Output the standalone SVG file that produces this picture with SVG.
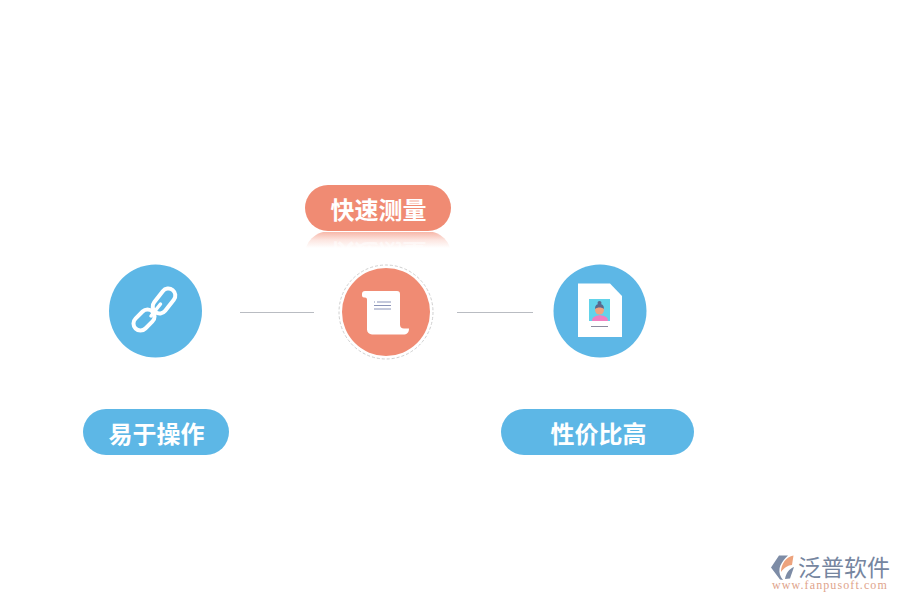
<svg xmlns="http://www.w3.org/2000/svg" width="900" height="600" viewBox="0 0 900 600">
<defs>
<linearGradient id="fade" gradientUnits="userSpaceOnUse" x1="0" y1="232" x2="0" y2="248"><stop offset="0" stop-color="#f28b73" stop-opacity=".62"/><stop offset=".5" stop-color="#f28b73" stop-opacity=".22"/><stop offset="1" stop-color="#f28b73" stop-opacity="0"/></linearGradient>
<clipPath id="refl"><rect x="300" y="232" width="160" height="16"/></clipPath>
</defs>
<style>
.lab{font-family:"Noto Sans CJK SC",sans-serif;font-weight:700;font-size:24px;fill:#fff;text-anchor:middle}
.blue{fill:#5db7e6}.red{fill:#f08b73}
.con{stroke:#b9bcc2;stroke-width:1;fill:none}
.w{fill:#fff}
.ln{stroke:#8a94b8;stroke-width:1;fill:none}
.link{fill:none;stroke:#fff;stroke-width:4}
</style>
<rect width="900" height="600" fill="#fff"/>
<g id="connectors">
<line class="con" x1="240" y1="312.500" x2="314" y2="312.500"/>
<line class="con" x1="457" y1="312.500" x2="533" y2="312.500"/>
</g>
<g id="node-speed-label">
<g clip-path="url(#refl)">
<rect x="305" y="231.500" width="146" height="46" rx="23" fill="url(#fade)"/>
<text class="lab" transform="translate(378.500 463) scale(1 -1)" fill-opacity=".55" y="219" x="0">快速测量</text>
</g>
<rect x="305" y="185" width="146" height="46" rx="23" class="red"/>
<text x="378.500" y="219" class="lab">快速测量</text>
</g>
<g id="node-speed">
<circle cx="386" cy="312" r="47" fill="none" stroke="#cfcfcf" stroke-width="1" stroke-dasharray="3 2"/>
<circle cx="386" cy="312" r="44" class="red"/>
<path d="M362 294a3 3 0 0 1 3-3H397a3 3 0 0 1 3 3V324.500a4 4 0 0 0 4 4h5c0 4-2 6-6 6H372a5 5 0 0 1-5-5V299.500a2 2 0 0 0-2-2h-1a2 2 0 0 1-2-2Z" class="w"/>
<path class="ln" d="M377 302h14M374 305.500h17M374 309h17"/>
<path d="M374 302h1" stroke="#8a94b8" fill="none"/>
</g>
<g id="node-easy">
<circle cx="155.500" cy="311" r="46.500" class="blue"/>
<rect class="link" x="132" y="313" width="24" height="14" rx="7" transform="rotate(-45 144 320)"/>
<rect class="link" x="150" y="294" width="28" height="14" rx="7" transform="rotate(-52 164 301)"/>
<path d="M151 316L160.500 304" stroke="#fff" stroke-width="3.500" stroke-linecap="round" fill="none"/>
</g>
<g id="node-value">
<circle cx="600" cy="311" r="46.500" class="blue"/>
<path d="M578 283.500H610L622 296V337H578Z" class="w"/>
<rect x="589" y="299" width="21" height="22" fill="#62d3ea"/>
<path d="M592 321c0-4 3-5 8-6c5 1 8 2 8 6Z" fill="#f07fc0"/>
<circle cx="599.500" cy="310" r="4.500" fill="#f2a27e"/>
<path d="M595 309c0-4 2-5 4.500-5s4.500 1 4.500 5c-2-2-7-2-9 0Z" fill="#5a6a8c"/>
<circle cx="599.500" cy="303" r="2" fill="#5a6a8c"/>
<line x1="591" y1="326.500" x2="608" y2="326.500" stroke="#8c8c9e" stroke-width="1"/>
</g>
<g id="node-easy-label">
<rect x="83" y="409" width="146" height="46" rx="23" class="blue"/>
<text x="156.500" y="443" class="lab">易于操作</text>
</g>
<g id="node-value-label">
<rect x="501" y="409" width="193" height="46" rx="23" class="blue"/>
<text x="598.500" y="443" class="lab">性价比高</text>
</g>
<g id="logo">
<path d="M779 555.500H788C783 560 780 565 779.500 569C779 573 780 576 783 580L780 579.500L771 567.500Z" fill="#7d8ca6"/>
<path d="M781 572C781 564 786 557 793.500 555.500L792 565C788 565 784 568 781 572Z" fill="#eda37d"/>
<path d="M785 579C786 573 789 569 794 567L790 578.500Z" fill="#7d8ca6"/>
<text x="798" y="576" font-family="'Noto Sans CJK SC',sans-serif" font-size="23" fill="#76869f">泛普软件</text>
<text x="772" y="589" font-family="'Liberation Serif',serif" font-size="12" letter-spacing="1.100" fill="#e0a48c">www.fanpusoft.com</text>
</g>
</svg>
